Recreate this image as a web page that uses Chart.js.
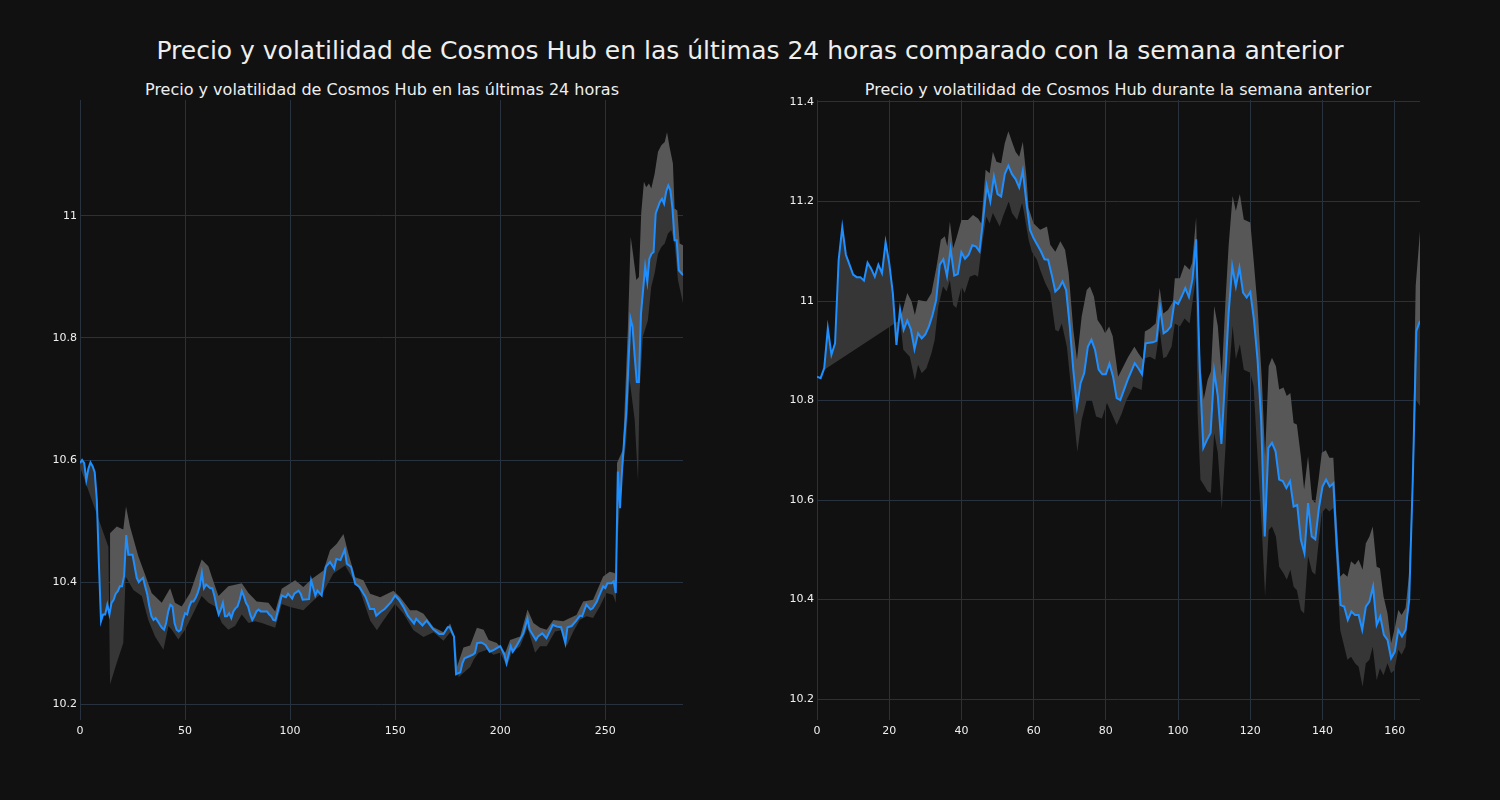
<!DOCTYPE html>
<html>
<head>
<meta charset="utf-8">
<script src="https://cdn.jsdelivr.net/npm/chart.js@4/dist/chart.umd.min.js"></script>
<style>
  body { margin: 0; background: #111111; }
  #wrap { position: relative; width: 1500px; height: 800px; background: #111111; font-family: "DejaVu Sans", sans-serif; color: #eeeeee; }
  .t { position: absolute; white-space: nowrap; transform: translate(-50%, -50%); }
  canvas { position: absolute; top: 0; }
</style>
</head>
<body>
<div id="wrap">
  <div class="t" style="left:750px; top:50px; font-size:25px;">Precio y volatilidad de Cosmos Hub en las últimas 24 horas comparado con la semana anterior</div>
  <div class="t" style="left:382px; top:89px; font-size:16px;">Precio y volatilidad de Cosmos Hub en las últimas 24 horas</div>
  <div class="t" style="left:1118px; top:89px; font-size:16px;">Precio y volatilidad de Cosmos Hub durante la semana anterior</div>
  <canvas id="left" width="750" height="800" style="left:0; width:750px; height:800px;"></canvas>
  <canvas id="right" width="750" height="800" style="left:750px; width:750px; height:800px;"></canvas>
</div>
<script>
// last 24 hours (5 min steps)
const leftX = [0,1,2,3,4,5,6,7,8,9,10,11,12,13,14,15,16,17,18,19,20,21,22,23,24,25,26,27,28,29,
  30,31,32,33,34,35,36,37,38,39,40,41,42,43,44,45,46,47,48,49,50,51,52,53,54,55,56,57,58,59,
  60,61,62,63,64,65,66,67,68,69,70,71,72,73,74,75,76,77,78,79,80,81,82,83,84,85,86,87,88,89,
  90,91,92,93,94,96,98,99,101,102,104,105,106,109,110,112,113,115,116,117,119,121,122,124,126,127,129,131,133,136,
  138,140,141,143,145,148,150,152,154,156,159,160,163,165,168,171,173,175,176,178,179,181,182,183,185,187,188,189,191,193,
  195,197,200,202,203,205,206,208,209,211,213,214,217,218,220,222,224,225,227,229,231,232,234,236,238,239,241,243,244,246,
  247,249,250,251,253,254,255,256,257,258,259,260,262,263,264,265,266,267,269,270,271,272,273,274,276,277,278,279,280,281,
  282,283,284,285,287];
const leftPrice = [10.595,10.600,10.595,10.567,10.586,10.596,10.590,10.580,10.535,10.430,10.336,10.347,10.347,10.363,10.347,10.366,10.371,10.381,10.385,10.393,
  10.393,10.410,10.477,10.445,10.445,10.445,10.426,10.407,10.400,10.404,10.407,10.393,10.380,10.360,10.344,10.338,10.341,10.336,10.330,10.325,
  10.322,10.333,10.352,10.363,10.360,10.333,10.322,10.319,10.322,10.338,10.349,10.347,10.360,10.368,10.368,10.374,10.382,10.393,10.415,10.390,
  10.396,10.393,10.390,10.390,10.377,10.360,10.347,10.355,10.366,10.344,10.344,10.349,10.341,10.352,10.357,10.360,10.371,10.385,10.377,10.366,
  10.360,10.347,10.338,10.344,10.352,10.355,10.352,10.352,10.352,10.352,10.347,10.344,10.338,10.337,10.350,10.378,10.375,10.381,10.373,10.381,
  10.386,10.381,10.371,10.372,10.403,10.378,10.386,10.378,10.403,10.425,10.433,10.422,10.438,10.436,10.453,10.430,10.425,10.397,10.392,10.375,
  10.356,10.356,10.345,10.351,10.356,10.367,10.378,10.370,10.359,10.345,10.332,10.340,10.329,10.337,10.323,10.315,10.315,10.326,10.326,10.311,
  10.249,10.252,10.267,10.275,10.278,10.281,10.284,10.300,10.301,10.297,10.286,10.289,10.295,10.281,10.267,10.295,10.286,10.297,10.303,10.316,
  10.340,10.322,10.305,10.311,10.316,10.308,10.322,10.330,10.327,10.326,10.300,10.326,10.328,10.336,10.345,10.344,10.363,10.355,10.357,10.368,
  10.377,10.393,10.390,10.398,10.398,10.401,10.382,10.581,10.521,10.584,10.633,10.677,10.832,10.818,10.770,10.728,10.728,10.840,10.917,10.892,
  10.930,10.938,10.941,11.004,11.023,11.028,11.020,11.040,11.050,11.042,11.012,10.960,10.960,10.911,10.903];
const leftUpX = [14.3,17.5,20.6,21.9,23.8,27.8,31,34.1,38.9,42.9,45.2,48.4,52.4,57.9,61.1,62.7,65.9,70.6,77,80.2,
  84.1,89.7,92.9,96,102.4,106.3,110.3,115.9,119,122.2,125.4,127.8,131,134.9,138.1,142.9,149.2,152.4,157.1,160.3,
  163.5,168.3,173,176.2,177.8,179.4,182.5,185.7,188.9,192.1,194.5,198.4,202.4,204.7,209.5,213,215.8,219,222.1,225.3,
  230,233.2,236.3,239.5,244.2,249,252.1,254.5,255.2,255.6,258.4,260.8,262.1,263.2,264.8,266,267.1,268.4,269.5,270.8,
  271.9,273.5,275.1,276.7,278.3,279.4,280.6,282.2,283,284.3,285.4,287];
const leftUp = [10.480,10.491,10.486,10.524,10.491,10.442,10.412,10.382,10.366,10.390,10.366,10.360,10.382,10.437,10.426,10.409,10.377,10.393,10.398,10.382,
  10.368,10.366,10.352,10.389,10.403,10.392,10.405,10.419,10.452,10.463,10.479,10.446,10.408,10.403,10.381,10.375,10.386,10.375,10.354,10.354,
  10.348,10.326,10.318,10.332,10.315,10.261,10.293,10.296,10.325,10.322,10.305,10.300,10.284,10.305,10.311,10.355,10.333,10.325,10.322,10.338,
  10.336,10.341,10.346,10.368,10.371,10.409,10.417,10.415,10.404,10.595,10.617,10.818,10.966,10.938,10.895,10.900,11.004,11.056,11.047,11.053,
  11.045,11.069,11.105,11.116,11.121,11.137,11.113,11.086,11.012,11.009,10.955,10.952];
const leftLowX = [0,13.5,14.3,17.5,20.6,21.7,25.4,29.4,32.5,35.7,39.7,42.1,43.7,46.8,50,53.2,57.9,61.1,64.3,67.5,
  70.6,73.8,77,80.2,83.3,86.5,92.9,96,100,106.3,111.1,115.9,120.6,126.2,129.4,133.3,138.1,141.3,144.4,150,
  154,158.7,163.5,168.3,173,176.2,178.6,180.2,185.7,187.4,189.7,193.7,196.8,200,203.2,205.5,209.5,213,216.6,219,
  222.1,226.1,230,231.6,234.8,237.9,241.1,244.2,247.4,250.6,253.7,255,256,257.6,260,261.6,264,265.6,266.3,267.9,
  270.3,271.9,273.5,275.1,276.7,278.3,279.8,281.4,283,284.6,287];
const leftLow = [10.589,10.458,10.232,10.268,10.300,10.409,10.387,10.377,10.338,10.311,10.289,10.328,10.322,10.306,10.322,10.344,10.377,10.366,10.360,10.333,
  10.322,10.328,10.347,10.333,10.336,10.333,10.325,10.364,10.359,10.354,10.370,10.384,10.414,10.427,10.408,10.386,10.337,10.321,10.337,10.364,
  10.348,10.321,10.310,10.318,10.304,10.318,10.304,10.244,10.261,10.273,10.284,10.289,10.281,10.284,10.262,10.284,10.295,10.325,10.284,10.295,
  10.295,10.319,10.322,10.295,10.319,10.338,10.344,10.341,10.360,10.382,10.379,10.366,10.475,10.562,10.633,10.731,10.666,10.565,10.709,10.802,
  10.829,10.884,10.906,10.938,10.949,10.955,10.971,10.977,10.955,10.895,10.857];

// previous week (hourly), x = index
const rightPrice = [10.848,10.845,10.865,10.945,10.892,10.915,11.083,11.148,11.093,11.073,11.053,11.048,11.048,11.041,11.077,11.065,11.049,11.073,11.056,11.118,
  11.076,11.016,10.912,10.983,10.942,10.961,10.943,10.903,10.935,10.925,10.933,10.949,10.972,11.002,11.073,11.084,11.050,11.105,11.051,11.054,
  11.098,11.085,11.093,11.112,11.110,11.100,11.163,11.232,11.200,11.250,11.215,11.210,11.255,11.272,11.255,11.245,11.228,11.262,11.197,11.143,
  11.126,11.113,11.100,11.084,11.083,11.053,11.019,11.026,11.039,11.022,10.949,10.860,10.788,10.835,10.855,10.908,10.922,10.902,10.862,10.853,
  10.853,10.874,10.848,10.805,10.801,10.821,10.841,10.858,10.875,10.865,10.853,10.915,10.916,10.917,10.920,10.988,10.935,10.940,10.949,10.999,
  10.994,11.009,11.026,11.008,11.044,11.124,10.860,10.705,10.721,10.735,10.859,10.809,10.713,10.842,10.976,11.070,11.029,11.067,11.017,11.007,
  11.018,10.963,10.883,10.762,10.527,10.705,10.715,10.698,10.641,10.638,10.624,10.638,10.587,10.590,10.520,10.493,10.594,10.527,10.521,10.584,
  10.627,10.641,10.627,10.634,10.500,10.389,10.386,10.359,10.376,10.369,10.369,10.339,10.386,10.396,10.426,10.349,10.366,10.329,10.319,10.282,
  10.295,10.339,10.326,10.339,10.399,10.641,10.940,10.960];
const rightUpX = [23,25,26.2,27.1,28,30.3,31.7,33.1,34.3,35.4,36.1,36.8,37.7,38.6,40,41.8,43.2,44.6,45.5,46.7,
  47.8,48.7,49.7,51,52,53,54,55,56,57,58,58.6,60,61.8,63.7,64.6,66,67.4,68.7,69.7,
  71,72,73.3,74.7,75.6,76.7,77.7,78.9,79.8,80.9,81.9,83.4,84.8,86.2,87.9,89,90.3,90.8,92.2,93.8,
  94.9,95.9,97.2,98.6,99.1,100.5,101.8,103.2,103.9,105,105.4,106.2,107.1,108.2,109.1,110,111,112.1,113.1,114,
  115.1,116,117.1,118.2,120,120.9,122,123.2,124.1,125.1,126,127.1,128,129.2,130.1,131.1,132,132.9,134,134.9,
  136,137.1,138,138.9,139.8,140.9,141.9,143,144,144.9,145.8,146.9,147.9,149,150,151.1,152,153,153.9,155,
  155.9,156.9,158,159,159.9,161,161.9,163,163.9,164.9,165.8,167];
const rightUp = [10.962,11.016,10.999,10.972,11.002,10.999,11.016,11.069,11.123,11.130,11.110,11.160,11.106,11.126,11.163,11.163,11.173,11.166,11.156,11.264,
  11.257,11.300,11.280,11.277,11.317,11.341,11.320,11.300,11.290,11.320,11.250,11.187,11.156,11.143,11.150,11.113,11.099,11.120,11.103,11.056,
  10.942,10.882,10.969,11.022,11.029,11.009,10.962,10.949,10.935,10.949,10.929,10.848,10.868,10.888,10.908,10.895,10.882,10.939,10.945,10.955,
  11.026,10.975,10.982,10.999,11.046,11.046,11.073,11.063,11.077,11.168,11.044,10.869,10.802,10.842,10.859,10.990,10.950,10.849,10.997,11.111,
  11.211,11.181,11.215,11.164,11.158,11.084,10.990,10.842,10.688,10.869,10.886,10.869,10.822,10.826,10.809,10.815,10.755,10.752,10.688,10.621,
  10.688,10.601,10.594,10.641,10.695,10.700,10.685,10.685,10.547,10.446,10.453,10.446,10.477,10.470,10.480,10.460,10.513,10.527,10.547,10.466,
  10.463,10.406,10.372,10.312,10.339,10.379,10.369,10.383,10.446,10.641,11.030,11.140];
const rightLowX = [2,23,23.9,25.7,27.1,28,29,30.3,31.7,32.6,33.6,34.9,35.9,36.8,37.7,38.6,40,40.9,42.3,43.7,
  44.6,45.5,46.9,47.8,48.7,49.7,50.6,51.5,53.1,54,55.4,56.8,57.2,58.6,59.5,60.9,61.8,63.2,64.6,66,
  66.9,67.8,69.2,70.6,72.1,73.3,74.7,76.1,77.3,78.9,80.3,81.6,83,84.4,85.7,87.6,89.9,90.8,92.2,93.7,
  94.9,95.9,96.8,98.2,99.1,100.5,101.8,103.2,103.9,105,105.4,106.2,107.1,108.2,109.1,110,111,112.1,113.1,114,
  115.1,116,117.1,118.2,120,120.9,122,123.2,124.1,125.1,126,127.1,128,129.2,130.1,131.1,132,132.9,134,134.9,
  136,137.1,138,138.9,139.8,140.9,141.9,143,144,144.9,145.8,146.9,147.9,149,150,151.1,152,153,153.9,155,
  155.9,156.9,158,159,159.9,161,161.9,163,163.9,164.9,165.8,167];
const rightLow = [10.862,10.962,10.902,10.888,10.841,10.872,10.855,10.865,10.895,10.922,10.989,11.029,11.019,11.042,10.992,10.986,11.029,11.016,11.049,11.053,
  11.049,11.103,11.170,11.156,11.177,11.163,11.150,11.170,11.200,11.177,11.163,11.197,11.183,11.123,11.099,11.083,11.063,11.036,11.016,10.942,
  10.939,10.955,10.908,10.808,10.697,10.761,10.801,10.801,10.768,10.764,10.795,10.774,10.751,10.774,10.801,10.828,10.821,10.885,10.888,10.882,
  10.942,10.885,10.888,10.908,10.955,10.949,10.965,10.955,10.993,11.050,10.775,10.641,10.631,10.617,10.614,10.735,10.695,10.581,10.701,10.842,
  10.950,10.883,10.913,10.862,10.856,10.829,10.688,10.540,10.406,10.540,10.547,10.527,10.466,10.453,10.440,10.460,10.426,10.419,10.379,10.372,
  10.487,10.456,10.450,10.513,10.574,10.584,10.577,10.584,10.453,10.339,10.312,10.279,10.285,10.272,10.265,10.225,10.272,10.279,10.305,10.238,
  10.262,10.248,10.272,10.252,10.258,10.299,10.289,10.305,10.393,10.574,10.802,10.789];

const xStepLeft = 50;
const xStepRight = 20;
const yStep = 0.2;

const zip = (xs, ys) => xs.map((x, i) => ({ x, y: ys[i] }));

function makeChart(id, price, up, low, opts) {
  return new Chart(document.getElementById(id), {
    type: 'line',
    data: {
      datasets: [
        { data: price, borderColor: '#1f8fff', borderWidth: 2, pointRadius: 0, fill: false, order: 0 },
        { data: up, borderWidth: 0, pointRadius: 0, backgroundColor: '#575757', fill: { target: 0 }, order: 1 },
        { data: low, borderWidth: 0, pointRadius: 0, backgroundColor: '#363636', fill: { target: 0 }, order: 2 }
      ]
    },
    options: {
      responsive: false,
      animation: false,
      devicePixelRatio: 1,
      layout: { padding: opts.padding },
      plugins: { legend: { display: false }, tooltip: { enabled: false } },
      scales: {
        x: {
          type: 'linear',
          min: 0,
          max: opts.xMax,
          border: { display: false },
          grid: { color: '#28323f', drawTicks: false },
          afterFit: s => { s.height = 80; },
          ticks: {
            stepSize: opts.xStep, includeBounds: false, color: '#f0f0f0', padding: 5,
            maxRotation: 0, font: { family: 'DejaVu Sans', size: 11 }
          }
        },
        y: {
          min: opts.yMin,
          max: opts.yMax,
          border: { display: false },
          grid: { color: '#28323f', drawTicks: false },
          afterFit: s => { s.width = 40; },
          ticks: {
            stepSize: yStep, includeBounds: false, color: '#f0f0f0', padding: 3,
            font: { family: 'DejaVu Sans', size: 11 },
            callback: v => String(parseFloat(v.toFixed(1)))
          }
        }
      }
    }
  });
}

makeChart('left', zip(leftX, leftPrice), zip(leftUpX, leftUp), zip(leftLowX, leftLow),
  { xMax: 287, xStep: xStepLeft, yMin: 10.174, yMax: 11.19, padding: { left: 40, right: 67, top: 100, bottom: 0 } });

makeChart('right', rightPrice.map((y, x) => ({ x, y })), zip(rightUpX, rightUp), zip(rightLowX, rightLow),
  { xMax: 167, xStep: xStepRight, yMin: 10.158, yMax: 11.404, padding: { left: 27, right: 80, top: 100, bottom: 0 } });
</script>
</body>
</html>
